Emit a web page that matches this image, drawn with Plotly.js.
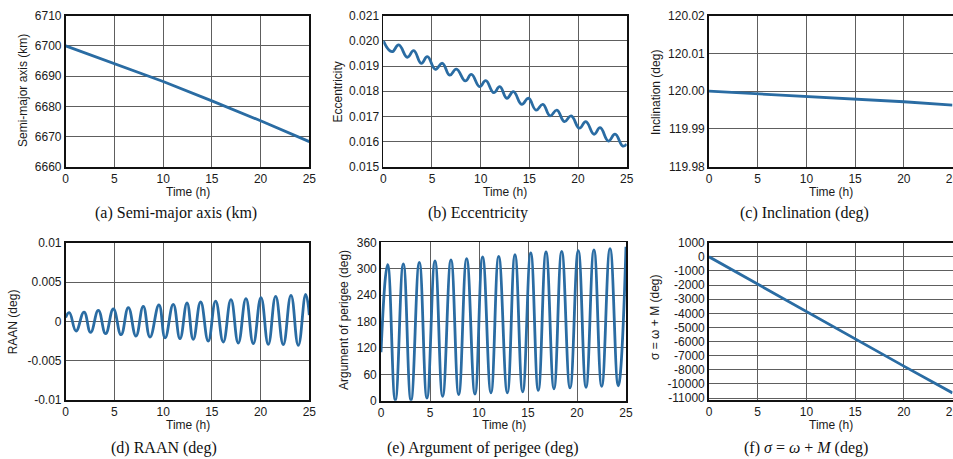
<!DOCTYPE html>
<html>
<head>
<meta charset="utf-8">
<script src="https://cdn.plot.ly/plotly-3.0.1.min.js"></script>
<style>
  html, body { margin: 0; padding: 0; background: #ffffff; }
  #chart { width: 953px; height: 459px; }
</style>
</head>
<body>
<div id="chart"></div>
<script>
// ---------------- DATA ----------------
const timeTicks = [0, 5, 10, 15, 20, 25];
const timeTickText = ['0', '5', '10', '15', '20', '25'];

// (a) Semi-major axis (km)
const tA = [0, 5, 10, 15, 20, 25];
const smaA = [6700, 6694, 6688.2, 6681.8, 6675.2, 6668.3];
const smaTicks = [6660, 6670, 6680, 6690, 6700, 6710];
const smaTickText = ['6660', '6670', '6680', '6690', '6700', '6710'];

// (b) Eccentricity (peaks and troughs of the ripple)
const tB = [0, 0.89, 1.58, 2.47, 3.12, 3.9, 4.52, 5.35, 6.06, 6.82, 7.5, 8.43, 9.04, 9.9, 10.52,
            11.35, 11.96, 12.7, 13.36, 14.22, 14.9, 15.69, 16.38, 17.13, 17.82, 18.6, 19.29,
            20.14, 20.8, 21.65, 22.27, 23.12, 23.8, 24.6, 25];
const eccB = [0.0200, 0.01957, 0.01984, 0.01935, 0.01961, 0.01911, 0.01937, 0.01887, 0.01911,
              0.01864, 0.01888, 0.01841, 0.01867, 0.01818, 0.01842, 0.01794, 0.01818, 0.01772,
              0.01798, 0.01748, 0.01772, 0.01725, 0.01748, 0.01702, 0.01725, 0.01679, 0.01702,
              0.01653, 0.01679, 0.01629, 0.01655, 0.01602, 0.01629, 0.01582, 0.0159];
const eccTicks = [0.015, 0.016, 0.017, 0.018, 0.019, 0.020, 0.021];
const eccTickText = ['0.015', '0.016', '0.017', '0.018', '0.019', '0.020', '0.021'];

// (c) Inclination (deg)
const tC = [0, 5, 10, 15, 20, 25];
const incC = [120.0, 119.9993, 119.9986, 119.9979, 119.9972, 119.9963];
const incTicks = [119.98, 119.99, 120.00, 120.01, 120.02];
const incTickText = ['119.98', '119.99', '120.00', '120.01', '120.02'];

// (d) RAAN (deg) (peaks and troughs)
const tD = [0, 0.37, 1.06, 1.88, 2.56, 3.35, 4.1, 4.89, 5.68, 6.43, 7.21, 7.96, 8.65, 9.57, 10.2,
            11.04, 11.73, 12.45, 13.09, 13.85, 14.63, 15.39, 16.17, 16.96, 17.71, 18.5, 19.25,
            20.04, 20.79, 21.55, 22.33, 23.12, 23.87, 24.63, 25];
const raanD = [0.0005, 0.0011, -0.00123, 0.00118, -0.0014, 0.0014, -0.00157, 0.00157, -0.0017,
               0.00174, -0.00187, 0.0019, -0.002, 0.00208, -0.0021, 0.00216, -0.0022, 0.00233,
               -0.00229, 0.00246, -0.0025, 0.00258, -0.00263, 0.00276, -0.00276, 0.00289,
               -0.00284, 0.00302, -0.00293, 0.00318, -0.00295, 0.00331, -0.00305, 0.00343, 0.0008];
const raanTicks = [-0.01, -0.005, 0, 0.005, 0.01];
const raanTickText = ['-0.01', '-0.005', '0', '0.005', '0.01'];

// (e) Argument of perigee (deg) (peaks and troughs)
const tE = [0, 0.68, 1.46, 2.28, 3.06, 3.91, 4.69, 5.51, 6.29, 7.14, 7.93, 8.74, 9.59, 10.37, 11.22,
            12.01, 12.89, 13.67, 14.46, 15.28, 16.05, 16.84, 17.65, 18.44, 19.29, 20.13, 20.92,
            21.73, 22.52, 23.37, 24.21, 25];
const argE = [110, 309, 1, 311, 1, 314.5, 6, 318, 10, 320, 14, 323, 15, 326.6, 18, 328, 18, 332,
              20, 335.7, 23.5, 338, 27, 339.5, 29, 341, 30.5, 343, 32.7, 345.5, 34, 350];
const argTicks = [0, 60, 120, 180, 240, 300, 360];
const argTickText = ['0', '60', '120', '180', '240', '300', '360'];

// (f) sigma = omega + M (deg)
const tF = [0, 5, 10, 15, 20, 25];
const sigF = [0, -1950, -3900, -5830, -7740, -9640];
const sigTicks = [1000, 0, -1000, -2000, -3000, -4000, -5000, -6000, -7000, -8000, -9000, -10000];
const sigTickText = ['1000', '0', '-1000', '-2000', '-3000', '-4000', '-5000', '-6000', '-7000',
                     '-8000', '-10000', '-11000'];

// ---------------- LAYOUT HELPERS ----------------
const W = 953, H = 459;
const px = x => x / W;
const py = y => 1 - y / H;
const LINE = '#2a6ca3';
const tickFont = { family: 'Liberation Sans, Arial, Helvetica, sans-serif', size: 12, color: '#1a1a1a' };
const titleFont = { family: 'Liberation Sans, Arial, Helvetica, sans-serif', size: 12, color: '#1a1a1a' };
const capFont = { family: 'Liberation Serif, Times New Roman, serif', size: 16, color: '#111' };

function axis(extra) {
  return Object.assign({
    showgrid: true, gridcolor: '#5e5e5e', gridwidth: 1,
    showline: true, linecolor: '#111', linewidth: 1.8, mirror: true,
    zeroline: false, ticks: '', tickfont: tickFont, fixedrange: true,
    tickmode: 'array', ticklabeloverflow: 'allow'
  }, extra);
}

const panels = [
  { t: tA, y: smaA, l: 65.7, r: 309.3, top: 15.7, bot: 166.7, yr: [6660, 6710], tv: smaTicks, tt: smaTickText },
  { t: tB, y: eccB, l: 383.3, r: 626.7, top: 15.7, bot: 166.7, yr: [0.015, 0.021], tv: eccTicks, tt: eccTickText },
  { t: tC, y: incC, l: 709, r: 952.5, top: 15.7, bot: 166.7, yr: [119.98, 120.02], tv: incTicks, tt: incTickText },
  { t: tD, y: raanD, l: 65.7, r: 309.3, top: 242.7, bot: 400, yr: [-0.01, 0.01], tv: raanTicks, tt: raanTickText },
  { t: tE, y: argE, l: 381, r: 626, top: 242.3, bot: 400.7, yr: [0, 360], tv: argTicks, tt: argTickText },
  { t: tF, y: sigF, l: 709, r: 952.5, top: 242.7, bot: 400, yr: [-10140, 1000], tv: sigTicks, tt: sigTickText }
];

const data = [];
const layout = {
  width: W, height: H,
  margin: { l: 0, r: 0, t: 0, b: 0, pad: 0 },
  paper_bgcolor: '#ffffff', plot_bgcolor: '#ffffff',
  showlegend: false,
  annotations: []
};

panels.forEach((p, i) => {
  const n = i === 0 ? '' : String(i + 1);
  data.push({
    x: p.t, y: p.y, type: 'scatter', mode: 'lines',
    xaxis: 'x' + n, yaxis: 'y' + n,
    line: { color: LINE, width: 2.8, shape: (p.t.length > 6 ? 'spline' : 'linear'), smoothing: 1.3 },
    hoverinfo: 'skip'
  });
  layout['xaxis' + n] = axis({
    domain: [px(p.l), px(p.r)], range: [0, 25], anchor: 'y' + n,
    tickvals: timeTicks, ticktext: timeTickText
  });
  layout['yaxis' + n] = axis({
    domain: [py(p.bot), py(p.top)], range: p.yr, anchor: 'x' + n,
    tickvals: p.tv, ticktext: p.tt
  });
});

function ann(text, x, y, font, angle) {
  layout.annotations.push({
    text: text, x: px(x), y: py(y), xref: 'paper', yref: 'paper',
    xanchor: 'center', yanchor: 'middle', showarrow: false,
    font: font, textangle: angle || 0
  });
}

// x-axis titles
ann('Time (h)', 187.5, 192.3, titleFont);
ann('Time (h)', 505, 192.3, titleFont);
ann('Time (h)', 830.7, 192.3, titleFont);
ann('Time (h)', 187.5, 425, titleFont);
ann('Time (h)', 503.5, 425, titleFont);
ann('Time (h)', 830.7, 425, titleFont);

// y-axis titles
ann('Semi-major axis (km)', 23, 91, titleFont, -90);
ann('Eccentricity', 337, 92.5, titleFont, -90);
ann('Inclination (deg)', 656, 93, titleFont, -90);
ann('RAAN (deg)', 13.3, 322, titleFont, -90);
ann('Argument of perigee (deg)', 344, 320, titleFont, -90);
ann('σ = ω + M (deg)', 655, 318, titleFont, -90);

// captions
ann('(a) Semi-major axis (km)', 175.8, 213.3, capFont);
ann('(b) Eccentricity', 478.3, 213.3, capFont);
ann('(c) Inclination (deg)', 804.5, 213.3, capFont);
ann('(d) RAAN (deg)', 164, 448.3, capFont);
ann('(e) Argument of perigee (deg)', 483.3, 448.3, capFont);
ann('(f) <i>σ</i> = <i>ω</i> + <i>M</i> (deg)', 805.8, 448.3, capFont);

Plotly.newPlot('chart', data, layout, { staticPlot: true, displayModeBar: false });
</script>
</body>
</html>
